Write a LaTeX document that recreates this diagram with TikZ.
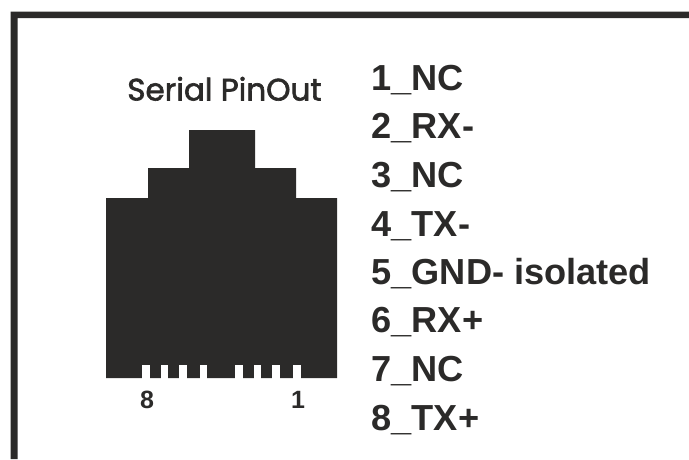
\documentclass[tikz,border=0pt]{standalone}
\usepackage{fontspec}
\setmainfont{Liberation Sans}
\newfontfamily\titlefont[FakeBold=2]{Poppins}
\definecolor{ink}{HTML}{2B2A29}
\tikzset{
  pinlabel/.style={anchor=base west,inner sep=0pt,text=ink,font=\fontsize{36.2}{36}\selectfont\bfseries},
  numlabel/.style={anchor=base,inner sep=0pt,text=ink,font=\fontsize{25}{25}\selectfont\bfseries},
  titlelabel/.style={anchor=base,inner sep=0pt,text=ink,font=\fontsize{31}{31}\selectfont\titlefont},
  notch/.style={fill=white,draw=none}
}
\begin{document}
\begin{tikzpicture}[x=1pt,y=-1pt]
\useasboundingbox (0,0) rectangle (689,459);
\fill[ink] (10.5,459) -- (10.5,11.5) -- (689,11.5) -- (689,18) -- (17.5,18) -- (17.5,459) -- cycle;
\fill[ink] (106,378) -- (106,198) -- (148,198) -- (148,168) -- (189,168) -- (189,130) -- (255,130) -- (255,168) -- (296,168) -- (296,198) -- (337,198) -- (337,378) -- cycle;
\foreach \a/\b in {142.3/149.7,161/168,179.3/186.7,200.3/207.3,235.3/242.7,254/261.3,272.3/279.7,293.3/300.7}
  \fill[notch] (\a,365) rectangle (\b,378.5);
\node[titlelabel] (title) at (224.5,100.5) {Serial PinOut};
\node[numlabel] (n8) at (147,408) {8};
\node[numlabel] (n1) at (298,408) {1};
\node[pinlabel] (p1) at (371.3,90) {1\_NC};
\node[pinlabel] (p2) at (371.3,138.5) {2\_RX-};
\node[pinlabel] (p3) at (371.3,187) {3\_NC};
\node[pinlabel] (p4) at (371.3,236) {4\_TX-};
\node[pinlabel] (p5) at (371.3,284) {5\_GND- isolated};
\node[pinlabel] (p6) at (371.3,332.5) {6\_RX+};
\node[pinlabel] (p7) at (371.3,381) {7\_NC};
\node[pinlabel] (p8) at (371.3,430) {8\_TX+};
\end{tikzpicture}
\end{document}
